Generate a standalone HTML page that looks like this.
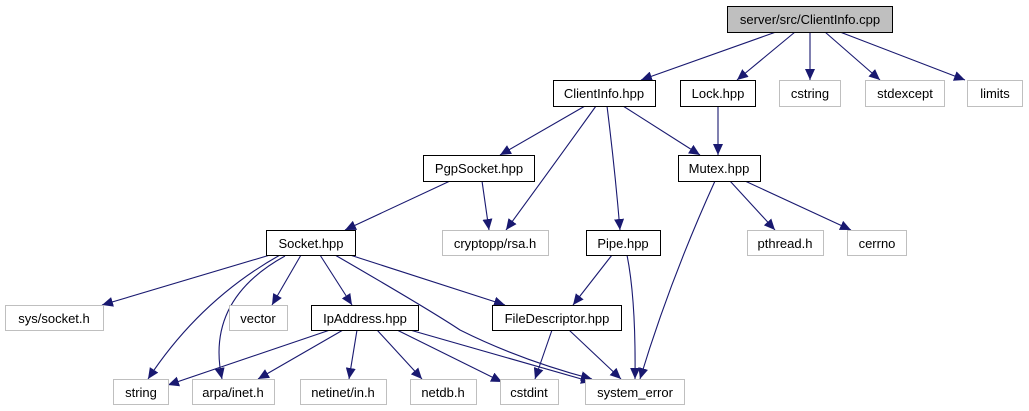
<!DOCTYPE html>
<html><head><meta charset="utf-8"><style>
html,body{margin:0;padding:0;background:#fff;}
svg{display:block;}
text{font-family:"Liberation Sans",sans-serif;font-size:13px;fill:#000;}
</style></head><body>
<svg width="1029" height="411" viewBox="0 0 1029 411" xmlns="http://www.w3.org/2000/svg">
<defs>
<marker id="a" markerWidth="12" markerHeight="10" refX="11" refY="5" orient="auto" markerUnits="userSpaceOnUse">
<path d="M0,0 L11,5 L0,10 z" fill="#191970"/>
</marker>
</defs>
<g fill="none" stroke="#191970" stroke-width="1.1" marker-end="url(#a)">
<line x1="776" y1="32" x2="641" y2="80"/>
<line x1="795" y1="32" x2="737" y2="80"/>
<line x1="810" y1="32" x2="810" y2="80"/>
<line x1="825" y1="32" x2="880" y2="80"/>
<line x1="840" y1="32" x2="965" y2="80"/>
<line x1="585" y1="106" x2="500" y2="155"/>
<path d="M596,106 Q550,170 506,230"/>
<path d="M607,106 Q615,170 620,230"/>
<line x1="623" y1="106" x2="700" y2="155"/>
<line x1="718" y1="106" x2="718" y2="155"/>
<line x1="450" y1="181" x2="345" y2="230"/>
<line x1="482" y1="181" x2="489" y2="230"/>
<line x1="730" y1="181" x2="775" y2="230"/>
<line x1="745" y1="181" x2="851" y2="230"/>
<path d="M715,181 Q670,280 640,379"/>
<line x1="270" y1="255" x2="102" y2="305"/>
<line x1="301" y1="255" x2="272" y2="305"/>
<line x1="320" y1="255" x2="352" y2="305"/>
<line x1="350" y1="255" x2="505" y2="305"/>
<path d="M335,255 Q430,310 460,330 Q520,360 592,379"/>
<path d="M280,255 Q200,300 148,379"/>
<path d="M285,256 Q205,300 222,379"/>
<line x1="612" y1="255" x2="573" y2="305"/>
<path d="M627,255 Q636,300 635,379"/>
<line x1="330" y1="330" x2="168" y2="385"/>
<line x1="343" y1="330" x2="258" y2="379"/>
<line x1="357" y1="330" x2="349" y2="379"/>
<line x1="377" y1="330" x2="422" y2="379"/>
<line x1="397" y1="330" x2="502" y2="382"/>
<line x1="410" y1="330" x2="592" y2="382"/>
<line x1="552" y1="330" x2="535" y2="379"/>
<line x1="569" y1="330" x2="621" y2="379"/>
</g>
<g stroke-width="1" >
<rect x="727.5" y="6.5" width="165" height="26" fill="#bfbfbf" stroke="#000"/>
<rect x="553.5" y="80.5" width="102" height="26" fill="#fff" stroke="#000"/>
<rect x="680.5" y="80.5" width="75" height="26" fill="#fff" stroke="#000"/>
<rect x="779.5" y="80.5" width="61" height="26" fill="#fff" stroke="#bfbfbf"/>
<rect x="865.5" y="80.5" width="79" height="26" fill="#fff" stroke="#bfbfbf"/>
<rect x="967.5" y="80.5" width="55" height="26" fill="#fff" stroke="#bfbfbf"/>
<rect x="423.5" y="155.5" width="111" height="26" fill="#fff" stroke="#000"/>
<rect x="678.5" y="155.5" width="82" height="26" fill="#fff" stroke="#000"/>
<rect x="266.5" y="230.5" width="89" height="25" fill="#fff" stroke="#000"/>
<rect x="442.5" y="230.5" width="106" height="25" fill="#fff" stroke="#bfbfbf"/>
<rect x="586.5" y="230.5" width="74" height="25" fill="#fff" stroke="#000"/>
<rect x="747.5" y="230.5" width="76" height="25" fill="#fff" stroke="#bfbfbf"/>
<rect x="847.5" y="230.5" width="59" height="25" fill="#fff" stroke="#bfbfbf"/>
<rect x="5.5" y="305.5" width="98" height="25" fill="#fff" stroke="#bfbfbf"/>
<rect x="229.5" y="305.5" width="58" height="25" fill="#fff" stroke="#bfbfbf"/>
<rect x="311.5" y="305.5" width="107" height="25" fill="#fff" stroke="#000"/>
<rect x="492.5" y="305.5" width="129" height="25" fill="#fff" stroke="#000"/>
<rect x="113.5" y="379.5" width="55" height="25" fill="#fff" stroke="#bfbfbf"/>
<rect x="192.5" y="379.5" width="82" height="25" fill="#fff" stroke="#bfbfbf"/>
<rect x="300.5" y="379.5" width="86" height="25" fill="#fff" stroke="#bfbfbf"/>
<rect x="410.5" y="379.5" width="66" height="25" fill="#fff" stroke="#bfbfbf"/>
<rect x="500.5" y="379.5" width="58" height="25" fill="#fff" stroke="#bfbfbf"/>
<rect x="585.5" y="379.5" width="99" height="25" fill="#fff" stroke="#bfbfbf"/>
</g>
<g text-anchor="middle">
<text x="810" y="24">server/src/ClientInfo.cpp</text>
<text x="604" y="98">ClientInfo.hpp</text>
<text x="718" y="98">Lock.hpp</text>
<text x="810" y="98">cstring</text>
<text x="905" y="98">stdexcept</text>
<text x="995" y="98">limits</text>
<text x="479" y="173">PgpSocket.hpp</text>
<text x="719" y="173">Mutex.hpp</text>
<text x="311" y="248">Socket.hpp</text>
<text x="495" y="248">cryptopp/rsa.h</text>
<text x="623" y="248">Pipe.hpp</text>
<text x="785" y="248">pthread.h</text>
<text x="877" y="248">cerrno</text>
<text x="54" y="323">sys/socket.h</text>
<text x="258" y="323">vector</text>
<text x="365" y="323">IpAddress.hpp</text>
<text x="557" y="323">FileDescriptor.hpp</text>
<text x="141" y="397">string</text>
<text x="233" y="397">arpa/inet.h</text>
<text x="343" y="397">netinet/in.h</text>
<text x="443" y="397">netdb.h</text>
<text x="529" y="397">cstdint</text>
<text x="635" y="397">system_error</text>
</g>
</svg>
</body></html>
